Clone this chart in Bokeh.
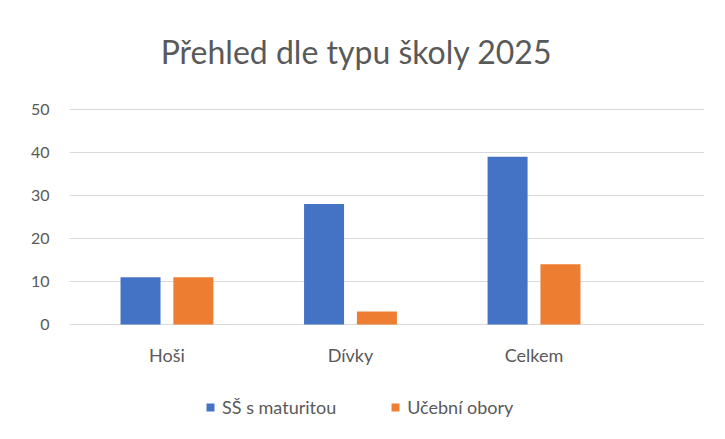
from bokeh.plotting import figure
from bokeh.models import Range1d, FixedTicker, Legend, LegendItem, ColumnDataSource, Label
from bokeh.transform import dodge
from bokeh.core.properties import value
from bokeh.embed import file_html
from bokeh.resources import INLINE

categories = ["Hoši", "Dívky", "Celkem"]
series_names = ["SŠ s maturitou", "Učební obory"]
ss_maturitou = [11, 28, 39]
ucebni_obory = [11, 3, 14]
y_ticks = [0, 10, 20, 30, 40, 50]
title_text = "Přehled dle typu školy 2025"

BLUE = "#4472C4"
ORANGE = "#ED7D31"
TEXT = "#595959"
FONT = "Lato"

xs = list(range(len(categories)))
src = ColumnDataSource(dict(x=xs, a=ss_maturitou, b=ucebni_obory, name=categories))

# frame spans the full height; value axis maps 0..50 onto the plot band
p = figure(width=725, height=439, output_backend="svg", toolbar_location=None,
           x_range=Range1d(-0.531, 2.929), y_range=Range1d(-26.744, 75.349),
           min_border_left=69, min_border_right=21, min_border_top=0,
           min_border_bottom=0, background_fill_color="white",
           border_fill_color="white", outline_line_color=None)

bw = 0.218
r1 = p.vbar(x=dodge("x", -0.144, range=p.x_range), top="a", width=bw, source=src,
            fill_color=BLUE, line_color=None)
r2 = p.vbar(x=dodge("x", 0.144, range=p.x_range), top="b", width=bw, source=src,
            fill_color=ORANGE, line_color=None)

# category labels
p.text(x="x", y=-7.2, text="name", source=src, text_align="center",
       text_baseline="middle", text_font=value(FONT), text_font_size="18px",
       text_color=TEXT)

p.xaxis.visible = False
p.yaxis.ticker = FixedTicker(ticks=y_ticks)
ax = p.yaxis[0]
ax.axis_line_color = None
ax.major_tick_line_color = None
ax.minor_tick_line_color = None
ax.major_tick_out = 0
ax.major_tick_in = 0
ax.minor_tick_out = 0
ax.major_label_text_color = TEXT
ax.major_label_text_font = FONT
ax.major_label_text_font_size = "16px"
ax.major_label_standoff = 20

p.xgrid.visible = False
p.ygrid.ticker = FixedTicker(ticks=y_ticks)
p.ygrid.grid_line_color = "#d9d9d9"
p.ygrid.grid_line_width = 1

title = Label(x=1.0327, y=63.5, text=title_text, text_align="center",
              text_baseline="alphabetic", text_font=FONT, text_font_size="32px",
              text_color=TEXT)
p.add_layout(title)

legend = Legend(items=[LegendItem(label=series_names[0], renderers=[r1]),
                       LegendItem(label=series_names[1], renderers=[r2])],
                location=(136, 21), orientation="horizontal", padding=0, margin=0,
                border_line_color=None, background_fill_alpha=0,
                glyph_width=10, glyph_height=10, label_standoff=7, spacing=54,
                label_height=20, label_text_font_size="18px",
                label_text_color=TEXT, label_text_font=FONT)
p.add_layout(legend)

open("out.html", "w").write(file_html(p, INLINE))
